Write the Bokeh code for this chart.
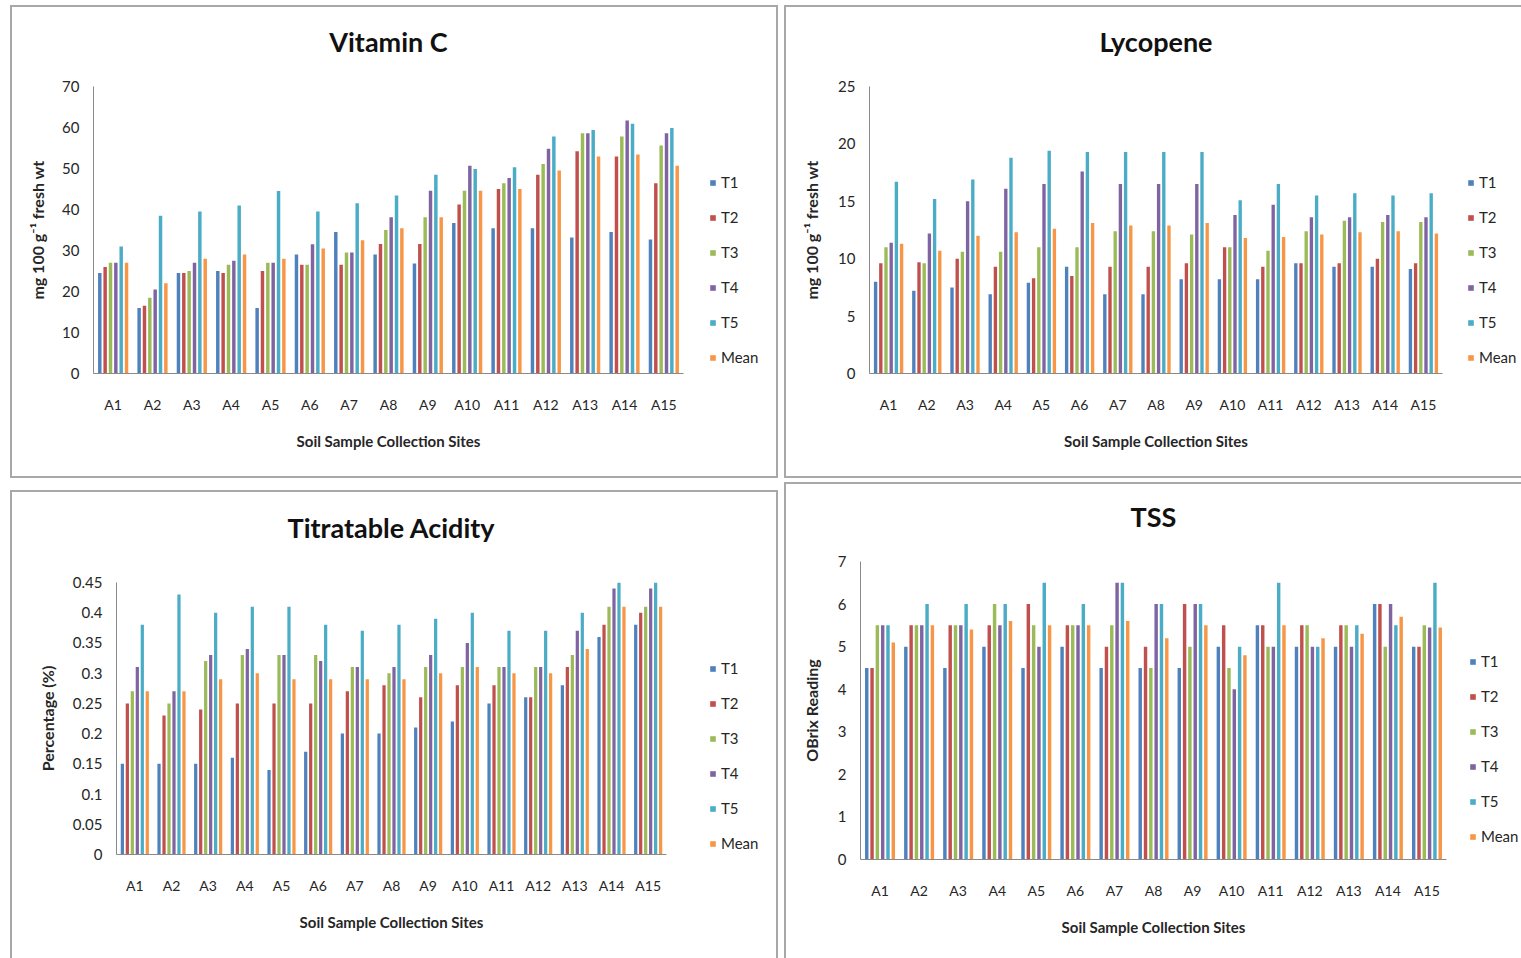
from bokeh.plotting import figure
from bokeh.models import (ColumnDataSource, Range1d, FixedTicker, LinearAxis,
                          NumeralTickFormatter, Legend)
from bokeh.transform import dodge
from bokeh.embed import file_html
from bokeh.resources import INLINE

# ---------------- data ----------------
sites = ["A1", "A2", "A3", "A4", "A5", "A6", "A7", "A8", "A9", "A10",
         "A11", "A12", "A13", "A14", "A15"]
series = ["T1", "T2", "T3", "T4", "T5", "Mean"]
colors = ["#4F81BD", "#C0504D", "#9BBB59", "#8064A2", "#4BACC6", "#F79646"]

# Vitamin C (mg 100 g-1 fresh wt)
vitc_t1 = [24.5, 16.0, 24.5, 25.0, 16.0, 29.0, 34.5, 29.0, 26.8, 36.7, 35.4, 35.4, 33.2, 34.5, 32.7]
vitc_t2 = [26.0, 16.5, 24.5, 24.5, 25.0, 26.5, 26.5, 31.6, 31.6, 41.2, 45.0, 48.5, 54.2, 52.9, 46.4]
vitc_t3 = [27.0, 18.5, 25.0, 26.5, 27.0, 26.5, 29.5, 35.0, 38.1, 44.6, 46.4, 51.1, 58.6, 57.8, 55.6]
vitc_t4 = [27.0, 20.5, 27.0, 27.5, 27.0, 31.5, 29.5, 38.1, 44.6, 50.7, 47.7, 54.8, 58.6, 61.7, 58.6]
vitc_t5 = [31.0, 38.5, 39.5, 41.0, 44.5, 39.5, 41.5, 43.4, 48.5, 49.9, 50.3, 57.8, 59.4, 60.9, 59.9]
vitc_mean = [27.0, 22.0, 28.0, 29.0, 28.0, 30.5, 32.5, 35.4, 38.1, 44.6, 45.0, 49.5, 52.9, 53.4, 50.7]

# Lycopene
lyc_t1 = [8.0, 7.2, 7.5, 6.9, 7.9, 9.3, 6.9, 6.9, 8.2, 8.2, 8.2, 9.6, 9.3, 9.3, 9.1]
lyc_t2 = [9.6, 9.7, 10.0, 9.3, 8.3, 8.5, 9.3, 9.3, 9.6, 11.0, 9.3, 9.6, 9.6, 10.0, 9.6]
lyc_t3 = [11.0, 9.6, 10.6, 10.6, 11.0, 11.0, 12.4, 12.4, 12.1, 11.0, 10.7, 12.4, 13.3, 13.2, 13.2]
lyc_t4 = [11.4, 12.2, 15.0, 16.1, 16.5, 17.6, 16.5, 16.5, 16.5, 13.8, 14.7, 13.6, 13.6, 13.8, 13.6]
lyc_t5 = [16.7, 15.2, 16.9, 18.8, 19.4, 19.3, 19.3, 19.3, 19.3, 15.1, 16.5, 15.5, 15.7, 15.5, 15.7]
lyc_mean = [11.3, 10.7, 12.0, 12.3, 12.6, 13.1, 12.9, 12.9, 13.1, 11.8, 11.9, 12.1, 12.3, 12.4, 12.2]

# Titratable acidity (%)
ta_t1 = [0.15, 0.15, 0.15, 0.16, 0.14, 0.17, 0.20, 0.20, 0.21, 0.22, 0.25, 0.26, 0.28, 0.36, 0.38]
ta_t2 = [0.25, 0.23, 0.24, 0.25, 0.25, 0.25, 0.27, 0.28, 0.26, 0.28, 0.28, 0.26, 0.31, 0.38, 0.40]
ta_t3 = [0.27, 0.25, 0.32, 0.33, 0.33, 0.33, 0.31, 0.30, 0.31, 0.31, 0.31, 0.31, 0.33, 0.41, 0.41]
ta_t4 = [0.31, 0.27, 0.33, 0.34, 0.33, 0.32, 0.31, 0.31, 0.33, 0.35, 0.31, 0.31, 0.37, 0.44, 0.44]
ta_t5 = [0.38, 0.43, 0.40, 0.41, 0.41, 0.38, 0.37, 0.38, 0.39, 0.40, 0.37, 0.37, 0.40, 0.45, 0.45]
ta_mean = [0.27, 0.27, 0.29, 0.30, 0.29, 0.29, 0.29, 0.29, 0.30, 0.31, 0.30, 0.30, 0.34, 0.41, 0.41]

# TSS (Brix)
tss_t1 = [4.5, 5.0, 4.5, 5.0, 4.5, 5.0, 4.5, 4.5, 4.5, 5.0, 5.5, 5.0, 5.0, 6.0, 5.0]
tss_t2 = [4.5, 5.5, 5.5, 5.5, 6.0, 5.5, 5.0, 5.0, 6.0, 5.5, 5.5, 5.5, 5.5, 6.0, 5.0]
tss_t3 = [5.5, 5.5, 5.5, 6.0, 5.5, 5.5, 5.5, 4.5, 5.0, 4.5, 5.0, 5.5, 5.5, 5.0, 5.5]
tss_t4 = [5.5, 5.5, 5.5, 5.5, 5.0, 5.5, 6.5, 6.0, 6.0, 4.0, 5.0, 5.0, 5.0, 6.0, 5.45]
tss_t5 = [5.5, 6.0, 6.0, 6.0, 6.5, 6.0, 6.5, 6.0, 6.0, 5.0, 6.5, 5.0, 5.5, 5.5, 6.5]
tss_mean = [5.1, 5.5, 5.4, 5.6, 5.5, 5.5, 5.6, 5.2, 5.5, 4.8, 5.5, 5.2, 5.3, 5.7, 5.45]

FONT = "Lato"
TXT = "#262626"
AXIS = "#8a8a8a"
N = len(sites)
pos = [i + 0.5 for i in range(N)]          # category centres on the axis
mid = N / 2                                # centre of the category block
XLABEL = "Soil Sample Collection Sites"


def label_axis(text, size, standoff, color):
    """An axis without line/ticks carrying one centred label (titles)."""
    return LinearAxis(ticker=FixedTicker(ticks=[mid]),
                      major_label_overrides={mid: text},
                      axis_line_color=None, major_tick_line_color=None,
                      minor_tick_line_color=None, major_tick_out=0,
                      major_tick_in=0, major_label_standoff=standoff,
                      major_label_text_font=FONT,
                      major_label_text_font_size=size,
                      major_label_text_font_style="bold",
                      major_label_text_color=color)


def make_panel(title, data, ymax, ticks, ylabel, left, top, width, height,
               data_left, data_right, frame_top, frame_bottom, frame_right,
               legend_loc, fmt=None, title_standoff=29, ylab_standoff=12):
    # the canvas starts inside the 2px CSS border and keeps its full size
    cx0, cy0 = left + 2, top + 2
    cx1, cy1 = cx0 + width, cy0 + height
    xend = N * (frame_right - data_left) / (data_right - data_left)
    p = figure(width=width, height=height, x_range=Range1d(0, xend),
               y_range=Range1d(0, ymax), output_backend="svg",
               toolbar_location=None, tools="", title=None,
               min_border_left=data_left - cx0, min_border_right=cx1 - frame_right,
               min_border_top=frame_top - cy0, min_border_bottom=cy1 - frame_bottom)
    src = ColumnDataSource(dict(pos=pos, **{s: v for s, v in zip(series, data)}))
    pitch = 0.136
    items = []
    for i, (s, c) in enumerate(zip(series, colors)):
        r = p.vbar(x=dodge("pos", (i - 2.5) * pitch), top=s,
                   width=0.088, source=src, fill_color=c, line_color=None)
        items.append((s, [r]))

    p.xgrid.grid_line_color = None
    p.ygrid.grid_line_color = None
    p.outline_line_color = None
    p.background_fill_color = "white"
    p.border_fill_color = "white"

    p.yaxis.ticker = FixedTicker(ticks=ticks)
    if fmt is not None:
        p.yaxis.formatter = NumeralTickFormatter(format=fmt)
    p.xaxis.ticker = FixedTicker(ticks=pos)
    p.xaxis.major_label_overrides = {x: s for x, s in zip(pos, sites)}
    p.xaxis.bounds = (0, N)
    for ax in (p.xaxis, p.yaxis):
        ax.axis_line_color = AXIS
        ax.axis_line_width = 1
        ax.major_tick_line_color = None
        ax.minor_tick_line_color = None
        ax.major_tick_out = 0
        ax.major_tick_in = 0
        ax.major_label_text_font = FONT
        ax.major_label_text_color = TXT
        ax.axis_label_text_font = FONT
        ax.axis_label_text_font_style = "bold"
        ax.axis_label_text_color = TXT
    p.xaxis.major_label_text_font_size = "14px"
    p.yaxis.major_label_text_font_size = "15px"
    p.xaxis.major_label_standoff = 22
    p.yaxis.axis_label = ylabel
    p.yaxis.axis_label_text_font_size = "16px"
    p.yaxis.major_label_standoff = 14
    p.yaxis.axis_label_standoff = ylab_standoff

    # x-axis title and chart title, centred over the category block
    p.add_layout(label_axis(XLABEL, "15px", 16, TXT), "below")
    p.add_layout(label_axis(title, "27px", title_standoff, "#111111"), "above")

    lg = Legend(items=items, location=legend_loc)
    lg.border_line_color = None
    lg.background_fill_alpha = 0
    lg.padding = 0
    lg.margin = 0
    lg.spacing = 15
    lg.label_height = 20
    lg.glyph_width = 7
    lg.glyph_height = 7
    lg.label_standoff = 5
    lg.label_text_font = FONT
    lg.label_text_font_size = "15px"
    lg.label_text_color = TXT
    p.add_layout(lg, "center")
    p.styles = {"position": "absolute", "left": f"{left}px", "top": f"{top}px",
                "border": "2px solid #a8a8a8"}
    return p


p1 = make_panel("Vitamin C", [vitc_t1, vitc_t2, vitc_t3, vitc_t4, vitc_t5, vitc_mean],
                70, [0, 10, 20, 30, 40, 50, 60, 70], "mg 100 g\u207b\u00b9 fresh wt",
                10, 5, 768, 473, 93, 683, 86, 373, 770, (616, 6))
p2 = make_panel("Lycopene", [lyc_t1, lyc_t2, lyc_t3, lyc_t4, lyc_t5, lyc_mean],
                25, [0, 5, 10, 15, 20, 25], "mg 100 g\u207b\u00b9 fresh wt",
                784, 5, 742, 473, 869, 1442, 86, 373, 1520, (598, 6), ylab_standoff=14)
p3 = make_panel("Titratable Acidity", [ta_t1, ta_t2, ta_t3, ta_t4, ta_t5, ta_mean],
                0.45, [0, 0.05, 0.1, 0.15, 0.2, 0.25, 0.3, 0.35, 0.4, 0.45],
                "Percentage (%)", 10, 490, 768, 472, 116, 666, 582, 854, 770, (593, 1),
                fmt="0.[00]", title_standoff=39, ylab_standoff=13)
p4 = make_panel("TSS", [tss_t1, tss_t2, tss_t3, tss_t4, tss_t5, tss_mean],
                7, [0, 1, 2, 3, 4, 5, 6, 7], "OBrix Reading",
                784, 482, 742, 480, 860, 1446, 561, 859, 1520, (609, 13),
                title_standoff=29, ylab_standoff=14)

open("out.html", "w").write(file_html([p1, p2, p3, p4], INLINE))
